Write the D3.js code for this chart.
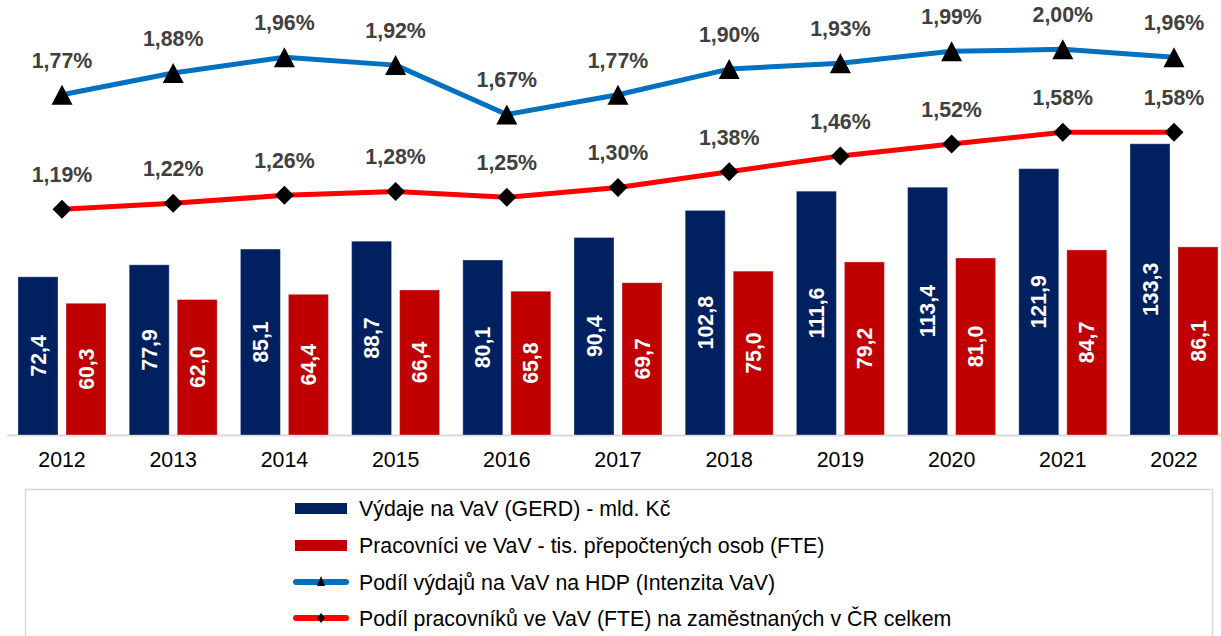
<!DOCTYPE html>
<html><head><meta charset="utf-8">
<script src="https://cdn.jsdelivr.net/npm/d3@7"></script>
<style>
html,body{margin:0;padding:0;background:#fff;}
svg{display:block;font-family:"Liberation Sans",Arial,sans-serif;}
</style></head>
<body>
<svg id="chart" width="1221" height="636"></svg>
<script>
const years = ["2012","2013","2014","2015","2016","2017","2018","2019","2020","2021","2022"];
const gerd = [72.4,77.9,85.1,88.7,80.1,90.4,102.8,111.6,113.4,121.9,133.3];
const fte = [60.3,62.0,64.4,66.4,65.8,69.7,75.0,79.2,81.0,84.7,86.1];
const intensity = [1.77,1.88,1.96,1.92,1.67,1.77,1.90,1.93,1.99,2.00,1.96];
const fteShare = [1.19,1.22,1.26,1.28,1.25,1.30,1.38,1.46,1.52,1.58,1.58];
const legendLabels = [
  "Výdaje na VaV (GERD) - mld. Kč",
  "Pracovníci ve VaV - tis. přepočtených osob (FTE)",
  "Podíl výdajů na VaV na HDP (Intenzita VaV)",
  "Podíl pracovníků ve VaV (FTE) na zaměstnaných v ČR celkem"
];

const C = {navy:"#002060", red:"#C00000", blueLine:"#0070C0", redLine:"#FF0000", lbl:"#404040"};
const FS = 21.33;
const fmt = (v,d) => v.toFixed(d).replace(".", ",");

const svg = d3.select("#chart");
const x0 = d3.scaleBand().domain(years).range([6.4,1229.6]).paddingInner(23.2/111.2).paddingOuter(11.6/111.2);
const x1 = d3.scaleBand().domain(["gerd","fte"]).range([0,x0.bandwidth()]).paddingInner(1/6);
const y = d3.scaleLinear().domain([0,200]).range([435,-2]);
const y2 = d3.scaleLinear().domain([0,2.25]).range([444,0]);
const cx = d => x0(d) + x0.bandwidth()/2;

// axis
const xAxis = d3.axisBottom(x0).tickSize(0).tickPadding(17);
const gx = svg.append("g").attr("transform","translate(0,435)").call(xAxis);
gx.select(".domain").remove();
gx.selectAll("text").attr("font-size",FS).attr("fill","#000").attr("font-family","Liberation Sans, Arial, sans-serif");
svg.append("line").attr("x1",7).attr("x2",1221).attr("y1",435.5).attr("y2",435.5).attr("stroke","#d9d9d9").attr("stroke-width",2);

// bars
const series = [{key:"gerd",vals:gerd,color:C.navy},{key:"fte",vals:fte,color:C.red}];
series.forEach(s=>{
  const g = svg.append("g");
  g.selectAll("rect").data(years).join("rect")
    .attr("x",d=>x0(d)+x1(s.key)).attr("width",x1.bandwidth())
    .attr("y",(d,i)=>y(s.vals[i])).attr("height",(d,i)=>y(0)-y(s.vals[i]))
    .attr("fill",s.color).attr("stroke","rgba(255,255,255,0.35)").attr("stroke-width",1);
  g.selectAll("text").data(years).join("text")
    .attr("transform",(d,i)=>{
      const xx = x0(d)+x1(s.key)+x1.bandwidth()/2;
      const yy = (y(s.vals[i])+y(0))/2;
      return `translate(${xx},${yy}) rotate(-90)`;})
    .attr("text-anchor","middle").attr("dy","0.36em")
    .attr("font-size",FS).attr("font-weight","bold").attr("fill","#fff")
    .text((d,i)=>fmt(s.vals[i],1));
});

// lines
const lineGen = vals => d3.line().x((d,i)=>cx(years[i])).y(d=>y2(d))(vals);
svg.append("path").attr("d",lineGen(fteShare)).attr("fill","none").attr("stroke",C.redLine).attr("stroke-width",5).attr("stroke-linejoin","round");
svg.append("path").attr("d",lineGen(intensity)).attr("fill","none").attr("stroke",C.blueLine).attr("stroke-width",5).attr("stroke-linejoin","round");

const tri = "M0,-10L10.5,10L-10.5,10Z";
const dia = "M0,-9.5L9.5,0L0,9.5L-9.5,0Z";
svg.append("g").selectAll("path").data(intensity).join("path")
  .attr("d",tri).attr("transform",(d,i)=>`translate(${cx(years[i])},${y2(d)})`).attr("fill","#000");
svg.append("g").selectAll("path").data(fteShare).join("path")
  .attr("d",dia).attr("transform",(d,i)=>`translate(${cx(years[i])},${y2(d)})`).attr("fill","#000");

[intensity,fteShare].forEach(vals=>{
  svg.append("g").selectAll("text").data(vals).join("text")
    .attr("x",(d,i)=>cx(years[i])).attr("y",d=>y2(d)-27)
    .attr("text-anchor","middle").attr("font-size",FS).attr("font-weight","bold").attr("fill",C.lbl)
    .text(d=>fmt(d,2)+"%");
});

// legend
svg.append("rect").attr("x",25.5).attr("y",489.5).attr("width",1187).attr("height",200).attr("fill","none").attr("stroke","#d9d9d9").attr("stroke-width",1.5);
const rowsY = [508.5,545.5,582,618];
const lg = svg.append("g");
lg.append("rect").attr("x",295).attr("y",rowsY[0]-5.5).attr("width",52).attr("height",11).attr("fill",C.navy);
lg.append("rect").attr("x",295).attr("y",rowsY[1]-5.5).attr("width",52).attr("height",11).attr("fill",C.red);
[[C.blueLine,rowsY[2],"M0,-6L4,4L-4,4Z"],[C.redLine,rowsY[3],"M0,-5L4,0L0,5L-4,0Z"]].forEach(([col,yy,m])=>{
  lg.append("line").attr("x1",296).attr("x2",346).attr("y1",yy).attr("y2",yy).attr("stroke",col).attr("stroke-width",6).attr("stroke-linecap","round");
  lg.append("path").attr("d",m).attr("transform",`translate(321,${yy})`).attr("fill","#000");
});
lg.selectAll("text").data(legendLabels).join("text")
  .attr("x",359).attr("y",(d,i)=>rowsY[i]).attr("dy","0.36em")
  .attr("font-size",FS).attr("fill","#000").text(d=>d);
</script>
</body></html>
